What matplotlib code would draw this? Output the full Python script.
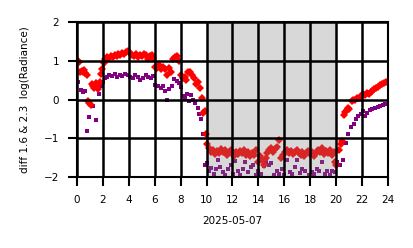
import matplotlib
matplotlib.use("Agg")
import matplotlib.pyplot as plt

red_t = [0.05, 0.15, 0.25, 0.35, 0.45, 0.55, 0.65, 0.75, 0.85, 0.95, 1.05, 1.15, 1.25, 1.35, 1.45, 1.55,
         1.65, 1.75, 1.85, 1.95, 2.05, 2.15, 2.3, 2.45, 2.6, 2.75, 2.9, 3.05, 3.2, 3.35, 3.5, 3.65, 3.8,
         3.95, 4.1, 4.25, 4.4, 4.55, 4.7, 4.85, 5.0, 5.15, 5.3, 5.45, 5.6, 5.75, 5.9, 6.05, 6.2, 6.35,
         6.5, 6.65, 6.8, 6.95, 7.1, 7.25, 7.4, 7.55, 7.7, 7.85, 8.0, 8.15, 8.3, 8.45, 8.6, 8.75, 8.9,
         9.05, 9.2, 9.35, 9.5, 9.65, 9.75, 9.85, 9.95,
         10.05, 10.2, 10.35, 10.5, 10.65, 10.8, 10.95, 11.1, 11.25, 11.4, 11.55, 11.7, 11.85, 12.0,
         12.15, 12.3, 12.45, 12.6, 12.75, 12.9, 13.05, 13.2, 13.35, 13.5, 13.65, 13.8, 13.95, 14.1,
         14.25, 14.4, 14.55, 14.7, 14.85, 15.0, 15.15, 15.3, 15.45, 15.6, 15.75, 15.9, 16.05, 16.2,
         16.35, 16.5, 16.65, 16.8, 16.95, 17.1, 17.25, 17.4, 17.55, 17.7, 17.85, 18.0, 18.15, 18.3,
         18.45, 18.6, 18.75, 18.9, 19.05, 19.2, 19.35, 19.5, 19.65, 19.8, 19.9, 20.0,
         20.25, 20.35, 20.45, 20.6, 20.7, 20.8, 20.9, 21.0, 21.2, 21.3, 21.45, 21.6, 21.75, 21.9,
         22.05, 22.2, 22.35, 22.5, 22.65, 22.8, 22.95, 23.1, 23.25, 23.4, 23.55, 23.7, 23.85]
red_v = [1.00, 0.97, 0.70, 0.74, 0.72, 0.76, 0.68, 0.62, -0.05, -0.10, -0.15, 0.40, 0.35, 0.30, 0.42, 0.38,
         0.28, 0.45, 0.65, 0.78, 0.95, 1.05, 1.10, 1.08, 1.12, 1.10, 1.15, 1.12, 1.18, 1.15, 1.20, 1.17, 1.22,
         1.25, 1.20, 1.15, 1.12, 1.18, 1.10, 1.15, 1.12, 1.18, 1.15, 1.05, 1.12, 1.16, 1.08, 0.85, 0.82, 0.88,
         0.80, 0.85, 0.78, 0.62, 0.82, 0.72, 1.05, 1.10, 1.12, 1.00, 0.62, 0.55, 0.58, 0.50, 0.70, 0.72, 0.62,
         0.55, 0.40, 0.45, 0.30, 0.05, -0.35, -0.30, -0.90,
         -1.15, -1.25, -1.35, -1.30, -1.40, -1.32, -1.38, -1.28, -1.35, -1.30, -1.42, -1.36, -1.30, -1.38,
         -1.45, -1.35, -1.40, -1.32, -1.38, -1.30, -1.42, -1.36, -1.45, -1.38, -1.42, -1.30, -1.60, -1.45,
         -1.55, -1.68, -1.50, -1.38, -1.30, -1.25, -1.35, -1.28, -1.22, -1.05, -1.50, -1.42, -1.35, -1.30,
         -1.38, -1.32, -1.40, -1.35, -1.30, -1.38, -1.42, -1.35, -1.45, -1.38, -1.32, -1.40, -1.35, -1.45,
         -1.38, -1.30, -1.36, -1.25, -1.40, -1.32, -1.38, -1.30, -1.42, -1.35, -1.60, -1.68,
         -1.30, -1.15, -1.08, -0.40, -0.32, -0.28, -0.22, -0.25, -0.05, 0.00, -0.02, 0.05, 0.03, 0.10,
         0.15, 0.12, 0.18, 0.15, 0.20, 0.22, 0.28, 0.30, 0.33, 0.38, 0.40, 0.43, 0.46]

purple_t = [0.1, 0.3, 0.45, 0.6, 0.8, 0.95, 1.1, 1.25, 1.45, 1.7, 1.85, 2.0, 2.15, 2.3, 2.5, 2.7, 2.9,
            3.1, 3.3, 3.5, 3.7, 3.9, 4.1, 4.3, 4.5, 4.7, 4.9, 5.1, 5.3, 5.5, 5.7, 5.9, 6.05, 6.25, 6.45,
            6.6, 6.8, 6.95, 7.1, 7.3, 7.5, 7.7, 7.85, 8.0, 8.2, 8.35, 8.5, 8.65, 8.8, 8.95, 9.1, 9.3,
            9.45, 9.6, 9.75, 9.9,
            10.05, 10.2, 10.35, 10.55, 10.7, 10.9, 11.05, 11.25, 11.45, 11.65, 11.85, 12.05, 12.2, 12.4,
            12.6, 12.8, 13.0, 13.2, 13.4, 13.6, 13.8, 14.0, 14.2, 14.4, 14.6, 14.8, 15.0, 15.2, 15.4,
            15.6, 15.8, 16.0, 16.2, 16.4, 16.6, 16.8, 17.0, 17.2, 17.4, 17.6, 17.75, 17.9, 18.1, 18.3,
            18.5, 18.7, 18.9, 19.1, 19.3, 19.5, 19.7, 19.9, 20.05,
            20.3, 20.5, 20.75, 20.95, 21.15, 21.35, 21.5, 21.7, 21.9, 22.05, 22.2, 22.4, 22.6, 22.8,
            23.0, 23.2, 23.4, 23.6, 23.8]
purple_v = [0.45, 0.25, 0.20, 0.22, -0.82, -0.45, -0.15, -0.18, -0.52, 0.15, 0.35, 0.45, 0.55, 0.58, 0.62,
            0.60, 0.65, 0.58, 0.62, 0.60, 0.65, 0.62, 0.58, 0.55, 0.62, 0.58, 0.50, 0.55, 0.62, 0.58, 0.55,
            0.60, 0.38, 0.35, 0.30, 0.36, 0.22, 0.00, 0.28, 0.35, 0.52, 0.48, 0.42, 0.32, 0.10, 0.05, 0.15,
            -0.05, 0.12, 0.00, -0.08, -0.22, -0.38, -0.50, -0.90, -1.70,
            -1.65, -1.85, -1.78, -1.92, -1.80, -1.55, -1.75, -1.88, -1.95, -1.80, -1.70, -1.92, -1.58, -1.85,
            -1.95, -1.80, -1.62, -1.88, -1.75, -1.68, -1.95, -1.85, -1.92, -1.72, -1.60, -1.68, -1.65, -1.95,
            -1.85, -1.92, -1.80, -1.95, -1.55, -1.88, -1.92, -1.75, -1.55, -1.90, -1.80, -1.85, -1.35, -1.95,
            -1.88, -1.92, -1.80, -1.85, -1.60, -1.92, -1.85, -1.95, -1.85, -1.88, -1.62,
            -1.70, -1.55, -1.12, -0.90, -0.70, -0.62, -0.50, -0.42, -0.38, -0.30, -0.42, -0.35, -0.28, -0.25,
            -0.22, -0.20, -0.18, -0.15, -0.12]

night_start, night_end = 10.0, 20.1
x_ticks = [0, 2, 4, 6, 8, 10, 12, 14, 16, 18, 20, 22, 24]
y_ticks = [-2, -1, 0, 1, 2]

fig = plt.figure(figsize=(4.14, 2.48), dpi=100)
ax = fig.add_axes([77/414, 1 - 177/248, (388-77)/414, (177-22)/248])

ax.plot(purple_t, purple_v, linestyle="none", marker="s", markersize=3.0,
        color="purple", markeredgewidth=0, zorder=2)
ax.plot(red_t, red_v, linestyle="none", marker="D", markersize=3.6,
        color="red", markeredgewidth=0, zorder=2.1)
ax.axvspan(night_start, night_end, color="gray", alpha=0.3, linewidth=0, zorder=2.3)

ax.set_xlim(0, 24)
ax.set_ylim(-2, 2)
ax.set_xticks(x_ticks)
ax.set_yticks(y_ticks)
ax.set_axisbelow(False)
ax.grid(True, color="black", linewidth=1.8)
for s in ax.spines.values():
    s.set_linewidth(1.5)
ax.tick_params(labelsize=7.5, width=1.5, length=6.5, pad=6.5)
ax.set_xlabel("2025-05-07", fontsize=7.5, labelpad=8)
ax.set_ylabel("diff 1.6 & 2.3  log(Radiance)", fontsize=7.5, labelpad=10)

fig.savefig("out.png", dpi=100)
